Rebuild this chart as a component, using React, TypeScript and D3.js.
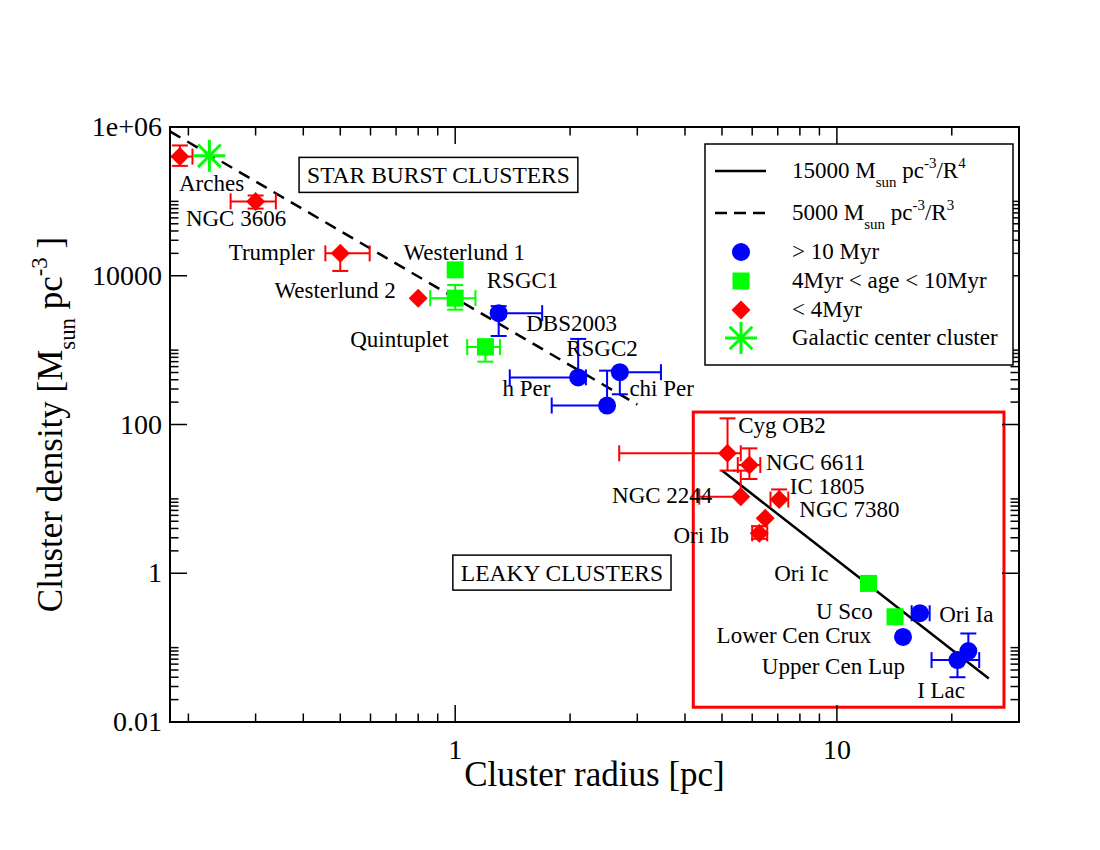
import * as d3 from 'd3';
import React, { useRef, useEffect } from 'react';

const width = 1100;
const height = 850;
const margin = { top: 127, right: 81, bottom: 128, left: 170 };
const font = "'Liberation Serif', 'Times New Roman', serif";

// [radius, density, radius low, radius high, density low, density high]
type Row = [number, number, number | null, number | null, number | null, number | null];

// > 10 Myr
const oldClusters: Row[] = [
  [1.3, 3140, null, 1.69, 1550, 3900],
  [2.1, 430, 1.39, 2.2, null, 1415],
  [2.7, 505, null, 3.46, 255, null],
  [2.5, 180, 1.79, null, null, 530],
  [16.5, 0.29, 15.7, 17.5, null, null],
  [14.9, 0.139, null, null, null, null],
  [20.7, 0.068, 17.7, 23.6, 0.04, null],
  [22.1, 0.09, null, null, null, 0.155],
];

// 4Myr < age < 10Myr
const midClusters: Row[] = [
  [1.0, 12000, null, null, null, null],
  [1.0, 5000, 0.86, 1.13, 3500, 7500],
  [1.2, 1100, 1.075, 1.31, 700, 1400],
  [12.1, 0.73, 11.6, 12.6, 0.65, 0.8],
  [14.2, 0.26, null, null, null, null],
];

// < 4Myr
const youngClusters: Row[] = [
  [0.19, 4.0e5, 0.17, 0.205, 3.0e5, 5.65e5],
  [0.3, 1.0e5, 0.258, 0.339, 8.0e4, 1.2e5],
  [0.5, 2.0e4, 0.457, 0.597, 1.16e4, null],
  [0.8, 5000, null, null, null, null],
  [5.17, 41, 2.69, 5.6, 24, 121],
  [5.9, 28.5, 5.5, 6.3, 18.5, 47.8],
  [5.6, 10.7, 4.36, null, null, 24],
  [7.06, 9.8, 6.7, 7.46, null, 13.4],
  [6.49, 5.5, null, null, null, null],
  [6.26, 3.44, 6.0, 6.57, 2.9, 4.3],
];

// galactic center cluster
const galacticCenter: Row[] = [[0.227, 4.1e5, null, null, null, null]];

// model lines: coefficient / R^n, drawn between two radii
const steepFit = { coef: 15000, power: 4, radii: [5, 25] };
const shallowFit = { coef: 5000, power: 3, radii: [0.179, 3] };

// name, radius, density (left baseline of the label)
const clusterLabels: [string, number, number][] = [
  ["Arches", 0.189, 1.39e5],
  ["NGC 3606", 0.197, 4.6e4],
  ["Trumpler", 0.255, 1.64e4],
  ["Westerlund 1", 0.732, 1.64e4],
  ["Westerlund 2", 0.336, 5050],
  ["RSGC1", 1.21, 6870],
  ["Quintuplet", 0.531, 1104],
  ["DBS2003", 1.535, 1811],
  ["RSGC2", 1.953, 835],
  ["h Per", 1.33, 242],
  ["chi Per", 2.86, 242],
  ["Cyg OB2", 5.515, 77.6],
  ["NGC 6611", 6.52, 24.4],
  ["NGC 2244", 2.576, 8.77],
  ["IC 1805", 7.53, 11.6],
  ["NGC 7380", 7.97, 5.69],
  ["Ori Ib", 3.73, 2.56],
  ["Ori Ic", 6.85, 0.783],
  ["U Sco", 8.81, 0.239],
  ["Ori Ia", 18.53, 0.222],
  ["Lower Cen Crux", 4.84, 0.1156],
  ["Upper Cen Lup", 6.36, 0.0448],
  ["I Lac", 16.23, 0.0213],
];

// boxed region captions (center)
const regionLabels: [string, number, number][] = [
  ["STAR BURST CLUSTERS", 0.904, 2.27e5],
  ["LEAKY CLUSTERS", 1.904, 1.02],
];

// red "leaky" region: radius range, density range
const leakyBox = { r: [4.205, 27.4], d: [0.0158, 147] };

const xDomain = [0.179, 30];
const yDomain = [0.01, 1e6];
const xTicks = [1, 10];
const xTickText = ["1", "10"];
const yTicks = [0.01, 1, 100, 1e4, 1e6];
const yTickText = ["0.01", "1", "100", "10000", "1e+06"];

const BLUE = "#0000ff";
const GREEN = "#00ff00";
const RED = "#ff0000";

type Part = [string, 'n' | 'sub' | 'sup'];

function richText(sel: any, parts: Part[], size: number) {
  let shift = 0;
  parts.forEach(([t, kind]) => {
    const target = kind === 'sub' ? size * 0.38 : kind === 'sup' ? -size * 0.42 : 0;
    sel.append("tspan")
      .attr("dy", target - shift)
      .attr("font-size", kind === 'n' ? size : size * 0.65)
      .text(t);
    shift = target;
  });
}

function drawMarker(g: any, kind: string, cx: number, cy: number) {
  if (kind === 'circle') {
    g.append("circle").attr("cx", cx).attr("cy", cy).attr("r", 9).attr("fill", BLUE);
  } else if (kind === 'square') {
    g.append("rect").attr("x", cx - 8.5).attr("y", cy - 8.5).attr("width", 17).attr("height", 17).attr("fill", GREEN);
  } else if (kind === 'diamond') {
    const s = 9.5;
    g.append("path")
      .attr("d", `M${cx},${cy - s}L${cx + s},${cy}L${cx},${cy + s}L${cx - s},${cy}Z`)
      .attr("fill", RED);
  } else {
    const s = 16;
    [0, 45, 90, 135].forEach(a => {
      const dx = s * Math.cos(a * Math.PI / 180), dy = s * Math.sin(a * Math.PI / 180);
      g.append("line")
        .attr("x1", cx - dx).attr("y1", cy - dy).attr("x2", cx + dx).attr("y2", cy + dy)
        .attr("stroke", GREEN).attr("stroke-width", 3);
    });
  }
}

function App(): any {
  const ref = useRef<SVGSVGElement>(null);

  useEffect(() => {
    const svg = d3.select(ref.current);
    svg.selectAll("*").remove();

    const x0 = margin.left, x1 = width - margin.right;
    const y0 = height - margin.bottom, y1 = margin.top;

    const xScale = d3.scaleLog().domain(xDomain).range([x0, x1]);
    const yScale = d3.scaleLog().domain(yDomain).range([y0, y1]);

    svg.append("rect").attr("width", width).attr("height", height).attr("fill", "#fff");

    svg.append("clipPath").attr("id", "plot-clip")
      .append("rect").attr("x", x0).attr("y", y1).attr("width", x1 - x0).attr("height", y0 - y1);

    const plot = svg.append("g").attr("clip-path", "url(#plot-clip)");

    // leaky region box
    plot.append("rect")
      .attr("x", xScale(leakyBox.r[0]))
      .attr("y", yScale(leakyBox.d[1]))
      .attr("width", xScale(leakyBox.r[1]) - xScale(leakyBox.r[0]))
      .attr("height", yScale(leakyBox.d[0]) - yScale(leakyBox.d[1]))
      .attr("fill", "none").attr("stroke", RED).attr("stroke-width", 3);

    // model lines
    const line = d3.line<number>()
      .x(r => xScale(r))
      .y((r, i, arr) => 0);
    [
      { fit: steepFit, dash: null },
      { fit: shallowFit, dash: "12,8" },
    ].forEach(({ fit, dash }) => {
      const pts = fit.radii.map(r => [xScale(r), yScale(fit.coef / Math.pow(r, fit.power))] as [number, number]);
      plot.append("path")
        .attr("d", d3.line()(pts))
        .attr("fill", "none").attr("stroke", "#000")
        .attr("stroke-width", 2.5)
        .attr("stroke-dasharray", dash);
    });

    const groups: [Row[], string, string][] = [
      [youngClusters, 'diamond', RED],
      [midClusters, 'square', GREEN],
      [oldClusters, 'circle', BLUE],
      [galacticCenter, 'star', GREEN],
    ];

    // error bars
    const cap = 8;
    groups.forEach(([rows, , color]) => {
      rows.forEach(([r, d, rLo, rHi, dLo, dHi]) => {
        const cx = xScale(r), cy = yScale(d);
        const eg = plot.append("g").attr("stroke", color).attr("stroke-width", 2).attr("fill", "none");
        if (rLo !== null || rHi !== null) {
          const a = rLo !== null ? xScale(rLo) : cx;
          const b = rHi !== null ? xScale(rHi) : cx;
          eg.append("line").attr("x1", a).attr("x2", b).attr("y1", cy).attr("y2", cy);
          if (rLo !== null) eg.append("line").attr("x1", a).attr("x2", a).attr("y1", cy - cap).attr("y2", cy + cap);
          if (rHi !== null) eg.append("line").attr("x1", b).attr("x2", b).attr("y1", cy - cap).attr("y2", cy + cap);
        }
        if (dLo !== null || dHi !== null) {
          const a = dLo !== null ? yScale(dLo) : cy;
          const b = dHi !== null ? yScale(dHi) : cy;
          eg.append("line").attr("x1", cx).attr("x2", cx).attr("y1", a).attr("y2", b);
          if (dLo !== null) eg.append("line").attr("x1", cx - cap).attr("x2", cx + cap).attr("y1", a).attr("y2", a);
          if (dHi !== null) eg.append("line").attr("x1", cx - cap).attr("x2", cx + cap).attr("y1", b).attr("y2", b);
        }
      });
    });

    // markers
    const mg = svg.append("g");
    groups.forEach(([rows, kind]) => {
      rows.forEach(([r, d]) => drawMarker(mg, kind, xScale(r), yScale(d)));
    });

    // cluster names
    svg.append("g")
      .attr("font-family", font).attr("font-size", 23)
      .selectAll("text")
      .data(clusterLabels)
      .join("text")
      .attr("x", d => xScale(d[1]))
      .attr("y", d => yScale(d[2]))
      .text(d => d[0]);

    // region captions in boxes
    regionLabels.forEach(([t, r, d]) => {
      const g = svg.append("g");
      const txt = g.append("text")
        .attr("x", xScale(r)).attr("y", yScale(d) + 8)
        .attr("text-anchor", "middle")
        .attr("font-family", font).attr("font-size", 23.5)
        .text(t);
      const bb = (txt.node() as SVGTextElement).getBBox();
      g.insert("rect", "text")
        .attr("x", bb.x - 8).attr("y", yScale(d) - 17.5)
        .attr("width", bb.width + 16).attr("height", 35)
        .attr("fill", "#fff").attr("stroke", "#000").attr("stroke-width", 1.5);
    });

    // axes frame and ticks
    const ax = svg.append("g").attr("stroke", "#000");
    ax.append("rect").attr("x", x0).attr("y", y1).attr("width", x1 - x0).attr("height", y0 - y1)
      .attr("fill", "none").attr("stroke-width", 2);

    const xMinor: number[] = [];
    [0.1, 1, 10].forEach(dec => d3.range(2, 10).forEach(k => {
      const v = k * dec;
      if (v > xDomain[0] && v < xDomain[1]) xMinor.push(v);
    }));
    const yMinor: number[] = [];
    [0.01, 1, 100, 1e4].forEach(dec => d3.range(2, 11).forEach(k => yMinor.push(k * dec)));

    const major = 17, minor = 8.5;
    const tickLines = (vals: number[], len: number) => {
      vals.forEach(v => {
        const px = xScale(v);
        ax.append("line").attr("x1", px).attr("x2", px).attr("y1", y0).attr("y2", y0 - len).attr("stroke-width", 1.5);
        ax.append("line").attr("x1", px).attr("x2", px).attr("y1", y1).attr("y2", y1 + len).attr("stroke-width", 1.5);
      });
    };
    tickLines(xTicks, major);
    tickLines(xMinor, minor);
    const yTickLines = (vals: number[], len: number) => {
      vals.forEach(v => {
        const py = yScale(v);
        ax.append("line").attr("y1", py).attr("y2", py).attr("x1", x0).attr("x2", x0 + len).attr("stroke-width", 1.5);
        ax.append("line").attr("y1", py).attr("y2", py).attr("x1", x1).attr("x2", x1 - len).attr("stroke-width", 1.5);
      });
    };
    yTickLines(yTicks.filter(v => v > yDomain[0] && v < yDomain[1]), major);
    yTickLines(yMinor.filter(v => !yTicks.includes(v)), minor);

    const tl = svg.append("g").attr("font-family", font).attr("font-size", 28);
    xTicks.forEach((v, i) => {
      tl.append("text").attr("x", xScale(v)).attr("y", y0 + 37).attr("text-anchor", "middle").text(xTickText[i]);
    });
    yTicks.forEach((v, i) => {
      tl.append("text").attr("x", x0 - 8).attr("y", yScale(v) + 9).attr("text-anchor", "end").text(yTickText[i]);
    });

    // axis titles
    svg.append("text")
      .attr("x", (x0 + x1) / 2).attr("y", y0 + 64)
      .attr("text-anchor", "middle")
      .attr("font-family", font).attr("font-size", 35)
      .text("Cluster radius [pc]");

    const yt = svg.append("text")
      .attr("transform", `translate(62,${(y0 + y1) / 2}) rotate(-90)`)
      .attr("text-anchor", "middle")
      .attr("font-family", font).attr("font-size", 35);
    richText(yt, [["Cluster density [M", 'n'], ["sun", 'sub'], [" pc", 'n'], ["-3", 'sup'], [" ]", 'n']], 35);

    // legend
    const lg = svg.append("g").attr("font-family", font);
    lg.append("rect").attr("x", 705).attr("y", 144).attr("width", 308).attr("height", 221)
      .attr("fill", "#fff").attr("stroke", "#000").attr("stroke-width", 1.5);
    const rows: { kind: string; y: number; parts: Part[] }[] = [
      { kind: 'solid', y: 171, parts: [["15000 M", 'n'], ["sun", 'sub'], [" pc", 'n'], ["-3", 'sup'], ["/R", 'n'], ["4", 'sup']] },
      { kind: 'dashed', y: 213, parts: [["5000 M", 'n'], ["sun", 'sub'], [" pc", 'n'], ["-3", 'sup'], ["/R", 'n'], ["3", 'sup']] },
      { kind: 'circle', y: 252, parts: [["> 10 Myr", 'n']] },
      { kind: 'square', y: 281, parts: [["4Myr < age < 10Myr", 'n']] },
      { kind: 'diamond', y: 310, parts: [["< 4Myr", 'n']] },
      { kind: 'star', y: 338, parts: [["Galactic center cluster", 'n']] },
    ];
    rows.forEach(row => {
      if (row.kind === 'solid' || row.kind === 'dashed') {
        lg.append("line").attr("x1", 715).attr("x2", 766).attr("y1", row.y).attr("y2", row.y)
          .attr("stroke", "#000").attr("stroke-width", 2.5)
          .attr("stroke-dasharray", row.kind === 'dashed' ? "12,7" : null);
      } else {
        drawMarker(lg, row.kind, 741, row.y);
      }
      const t = lg.append("text").attr("x", 792).attr("y", row.y + 7).attr("font-size", 23);
      richText(t, row.parts, 23);
    });
  }, []);

  return (
    <svg
      ref={ref}
      width={width}
      height={height}
      style={{ position: "absolute", left: 0, top: 0, background: "#fff" }}
    />
  );
}

export default App;
